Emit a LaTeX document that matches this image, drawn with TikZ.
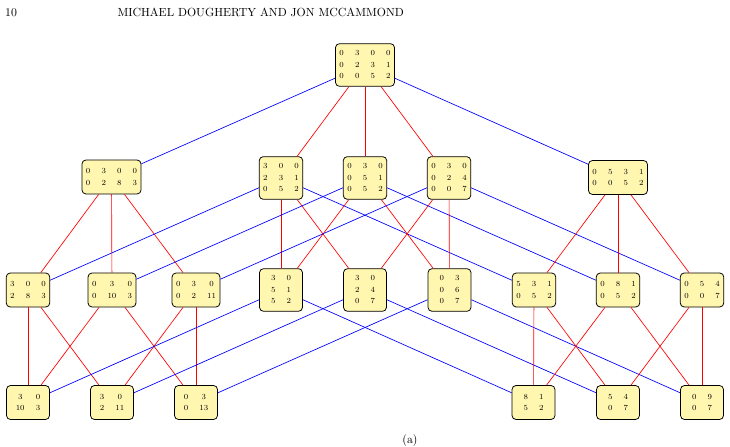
\documentclass[tikz,border=0pt]{standalone}
\usepackage{amsmath}
\definecolor{boxfill}{RGB}{255,247,176}
\newcommand{\mtx}[2]{$\begin{array}{@{}#1@{}}#2\end{array}$}
\renewcommand{\arraystretch}{1.3}
\tikzset{
  mbox/.style={draw=black, line width=0.7pt, fill=boxfill, rounded corners=3.6pt,
    inner sep=3.6pt, minimum width=38.7pt, font=\scriptsize},
  tworow/.style={mbox, minimum height=30.6pt},
  threerow/.style={mbox, minimum height=37.5pt},
  re/.style={red, line width=0.6pt},
  bl/.style={blue, line width=0.6pt},
  headtxt/.style={inner sep=0pt, font=\fontsize{10.6}{12}\selectfont},
}
\begin{document}
\begin{tikzpicture}[x=0.9pt,y=-0.9pt]
\useasboundingbox (0,0) rectangle (730,447);
% header
\node[headtxt, anchor=base west] (pg) at (5,16.5) {10};
\node[headtxt, anchor=base] (hd) at (260.7,16.5) {MICHAEL DOUGHERTY AND JON MCCAMMOND};
% top
\node[threerow] (T) at (365,65) {\mtx{cccc}{0&3&0&0\\0&2&3&1\\0&0&5&2}};
% row 2
\node[tworow]   (A) at (111.5,177) {\mtx{cccc}{0&3&0&0\\0&2&8&3}};
\node[threerow] (B) at (281,178) {\mtx{ccc}{3&0&0\\2&3&1\\0&5&2}};
\node[threerow] (C) at (365,178) {\mtx{ccc}{0&3&0\\0&5&1\\0&5&2}};
\node[threerow] (D) at (449,178) {\mtx{ccc}{0&3&0\\0&2&4\\0&0&7}};
\node[tworow]   (E) at (618,177.5) {\mtx{cccc}{0&5&3&1\\0&0&5&2}};
% row 3
\node[tworow]   (F) at (28,290) {\mtx{ccc}{3&0&0\\2&8&3}};
\node[tworow]   (G) at (112,290) {\mtx{ccc}{0&3&0\\0&10&3}};
\node[tworow]   (H) at (196,290) {\mtx{ccc}{0&3&0\\0&2&11}};
\node[threerow] (I) at (281,290) {\mtx{cc}{3&0\\5&1\\5&2}};
\node[threerow] (J) at (365,290) {\mtx{cc}{3&0\\2&4\\0&7}};
\node[threerow] (K) at (449.5,290) {\mtx{cc}{0&3\\0&6\\0&7}};
\node[tworow]   (L) at (534,290) {\mtx{ccc}{5&3&1\\0&5&2}};
\node[tworow]   (M) at (618,290) {\mtx{ccc}{0&8&1\\0&5&2}};
\node[tworow]   (N) at (702,290) {\mtx{ccc}{0&5&4\\0&0&7}};
% row 4
\node[tworow] (P) at (28,402.5) {\mtx{cc}{3&0\\10&3}};
\node[tworow] (Q) at (112,402.5) {\mtx{cc}{3&0\\2&11}};
\node[tworow] (R) at (196,402.5) {\mtx{cc}{0&3\\0&13}};
\node[tworow] (S) at (533.5,402.5) {\mtx{cc}{8&1\\5&2}};
\node[tworow] (U) at (618,402.5) {\mtx{cc}{5&4\\0&7}};
\node[tworow] (V) at (702,402.5) {\mtx{cc}{0&9\\0&7}};
% caption
\node[headtxt, anchor=base] (cap) at (410,443.5) {(a)};
% edges T
\draw[bl] (T) -- (A);
\draw[re] (T) -- (B);
\draw[re] (T) -- (C);
\draw[re] (T) -- (D);
\draw[bl] (T) -- (E);
% row 2 -> row 3
\draw[re] (A) -- (F);
\draw[re] (A) -- (G);
\draw[re] (A) -- (H);
\draw[re] (B) -- (I);
\draw[re] (B) -- (J);
\draw[bl] (B) -- (F);
\draw[bl] (B) -- (L);
\draw[re] (C) -- (I);
\draw[re] (C) -- (K);
\draw[bl] (C) -- (G);
\draw[bl] (C) -- (M);
\draw[re] (D) -- (J);
\draw[re] (D) -- (K);
\draw[bl] (D) -- (H);
\draw[bl] (D) -- (N);
\draw[re] (E) -- (L);
\draw[re] (E) -- (M);
\draw[re] (E) -- (N);
% row 3 -> row 4
\draw[re] (F) -- (P);
\draw[re] (F) -- (Q);
\draw[re] (G) -- (P);
\draw[re] (G) -- (R);
\draw[re] (H) -- (Q);
\draw[re] (H) -- (R);
\draw[bl] (I) -- (P);
\draw[bl] (I) -- (S);
\draw[bl] (J) -- (Q);
\draw[bl] (J) -- (U);
\draw[bl] (K) -- (R);
\draw[bl] (K) -- (V);
\draw[re] (L) -- (S);
\draw[re] (L) -- (U);
\draw[re] (M) -- (S);
\draw[re] (M) -- (V);
\draw[re] (N) -- (U);
\draw[re] (N) -- (V);
\end{tikzpicture}
\end{document}
